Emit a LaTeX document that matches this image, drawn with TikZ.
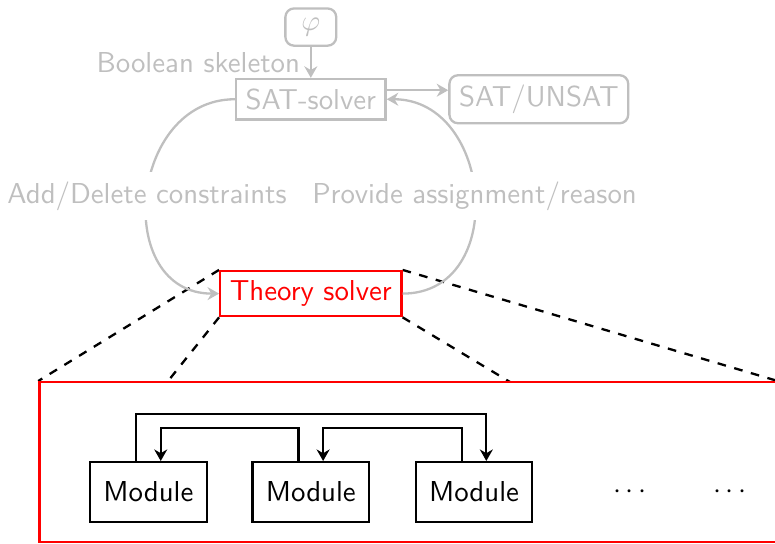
\documentclass[tikz,border=0pt]{standalone}
\usepackage{amsmath,amssymb}
\usepackage{tikz}
\usetikzlibrary{arrows.meta,backgrounds}

\begin{document}
\begin{tikzpicture}[font=\sffamily, thick, >={Stealth[length=4pt,width=4.5pt]},
        faded/.style={draw=gray!50, text=gray!50},
        module/.style={draw=black, minimum width=1.42cm, minimum height=0.73cm},
        zoomline/.style={thick, dashed}]
        \useasboundingbox (-3.79, 1.21) rectangle (5.66, -5.42);

        \node[faded, rounded corners=3pt, minimum width=0.62cm] (phi) at (0, 0.88) {$\varphi$};
        \node[faded] (sat) at (0, 0) {SAT-solver};
        \node[faded, rounded corners=3pt] (result) at (2.78, 0) {SAT/UNSAT};
        \node[draw=red, text=red] (theory) at (0, -2.37) {Theory solver};

        \draw[->, gray!50] (phi) -- node[left] {Boolean skeleton} (sat);
        \draw[->, gray!50] ([yshift=0.11cm]sat.east) -- ([yshift=0.11cm]result.west);
        \draw[->, gray!50] (sat.west) to[out=180, in=180, looseness=1.4]
            node[fill=white] {Add/Delete constraints} (theory.west);
        \draw[->, gray!50] (theory.east) to[out=0, in=0, looseness=1.4]
            node[fill=white] {Provide assignment/reason} (sat.east);

        % zoomed view of the theory solver
        \node[draw=red, fill=white, minimum width=8.99cm, minimum height=1.95cm] (zoom) at (1.185, -4.425) {};
        \begin{scope}[on background layer]
            \draw[zoomline] (theory.north west) -- (zoom.north west);
            \draw[zoomline] (theory.north east) -- (zoom.north east);
            \draw[zoomline] (theory.south west) -- (zoom.south west);
            \draw[zoomline] (theory.south east) -- (zoom.south east);
        \end{scope}

        \node[module] (m1) at (-1.98, -4.79) {Module};
        \node[module] (m2) at (0, -4.79) {Module};
        \node[module] (m3) at (1.99, -4.79) {Module};
        \node (dots1) at (3.92, -4.79) {$\cdots$};
        \node (dots2) at (5.14, -4.79) {$\cdots$};

        \draw[->] ([xshift=-0.15cm]m1.north) -- ++(0, 0.57) -| ([xshift=0.15cm]m3.north);
        \draw[->] ([xshift=-0.15cm]m2.north) -- ++(0, 0.4) -| ([xshift=0.15cm]m1.north);
        \draw[->] ([xshift=-0.15cm]m3.north) -- ++(0, 0.4) -| ([xshift=0.15cm]m2.north);

    \end{tikzpicture}
\end{document}
